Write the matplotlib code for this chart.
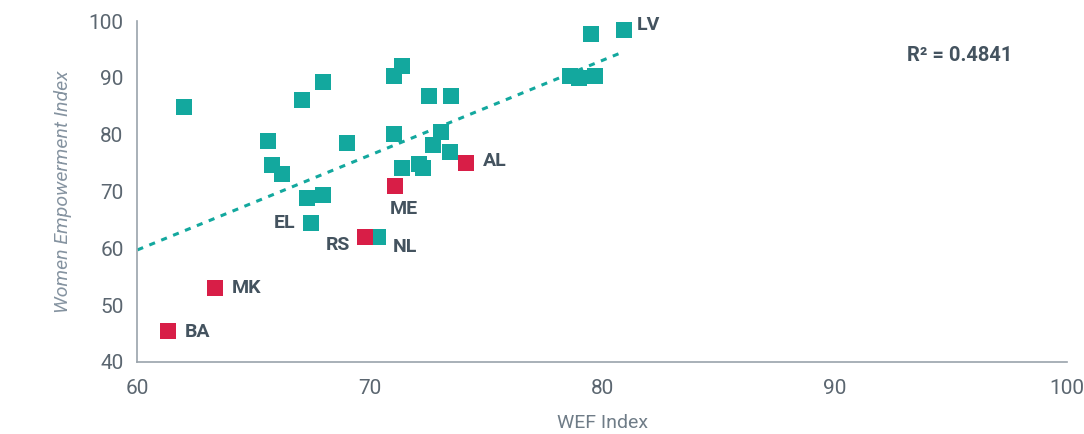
import matplotlib
matplotlib.use('Agg')
import matplotlib.pyplot as plt
import numpy as np

# WEF index (x) vs Women Empowerment Index (y)
wef = [62.0, 71.4, 71.05, 68.0, 67.1, 72.55, 73.5, 65.6, 69.0, 71.05, 73.05,
       72.7, 73.45, 65.8, 66.2, 71.4, 72.1, 72.3, 67.3, 68.0, 67.45, 70.35,
       79.5, 80.95, 78.6, 79.0, 79.7,
       74.15, 71.1, 69.8, 63.35, 61.3]
wei = [84.9, 92.0, 90.3, 89.3, 86.1, 86.8, 86.8, 78.9, 78.6, 80.2, 80.5,
       78.2, 77.0, 74.7, 73.1, 74.2, 74.8, 74.2, 68.9, 69.4, 64.5, 62.0,
       97.7, 98.4, 90.4, 89.9, 90.3,
       75.1, 71.0, 62.0, 53.0, 45.5]
codes = ['', '', '', '', '', '', '', '', '', '', '',
         '', '', '', '', '', '', '', '', '', 'EL', 'NL',
         '', 'LV', '', '', '',
         'AL', 'ME', 'RS', 'MK', 'BA']
balkan = [False] * 27 + [True] * 5
# trend line as drawn in the source (slope, intercept)
trend = [1.667, -40.3]
r2_text = 'R² = 0.4841'

teal = '#13a89e'
red = '#d81e47'
dark = '#44535f'

plt.rcParams['font.family'] = ['Roboto', 'DejaVu Sans']

fig = plt.figure(figsize=(10.84, 4.34), dpi=100)
ax = fig.add_axes([0.1268, 0.166, 0.8575, 0.7856])

x = np.array(wef)
y = np.array(wei)
hl = np.array(balkan)
ax.scatter(x[~hl], y[~hl], s=118, marker='s', color=teal, linewidths=0, zorder=3)
ax.scatter(x[hl], y[hl], s=118, marker='s', color=red, linewidths=0, zorder=4)

xt = np.array([60, x.max()])
ax.plot(xt, trend[0] * xt + trend[1], color=teal, lw=2.2, ls=(0, (2, 2.2)), zorder=2)

# label offsets (points) for the labelled markers
offs = {'LV': (9, 4, 'left'), 'AL': (12, 1, 'left'), 'ME': (6, -17, 'center'),
        'EL': (-11, 0, 'right'), 'RS': (-11, -6, 'right'), 'NL': (11, -7, 'left'),
        'MK': (12, 0, 'left'), 'BA': (12, -1, 'left')}
for xi, yi, c in zip(wef, wei, codes):
    if c:
        dx, dy, ha = offs[c]
        ax.annotate(c, (xi, yi), xytext=(dx, dy), textcoords='offset points',
                    ha=ha, va='center', fontsize=14, fontweight='bold', color=dark)

ax.text(93.1, 94.0, r2_text, fontsize=14.5, fontweight='bold', color=dark,
        ha='left', va='center')

ax.set_xlim(60, 100)
ax.set_ylim(40, 100)
ax.set_xticks([60, 70, 80, 90, 100])
ax.set_yticks([40, 50, 60, 70, 80, 90, 100])
ax.tick_params(length=0, labelsize=15, colors='#5b6670', pad=10)
ax.tick_params(axis='x', pad=12)
for s in ['top', 'right']:
    ax.spines[s].set_visible(False)
for s in ['left', 'bottom']:
    ax.spines[s].set_color('#9aa3ab')
    ax.spines[s].set_linewidth(1.2)
ax.set_xlabel('WEF Index', fontsize=14, color='#6f7c87', labelpad=12)
ax.set_ylabel('Women Empowerment Index', fontsize=14, color='#8593a0',
              style='italic', labelpad=12)

plt.savefig('out.png', dpi=100)
